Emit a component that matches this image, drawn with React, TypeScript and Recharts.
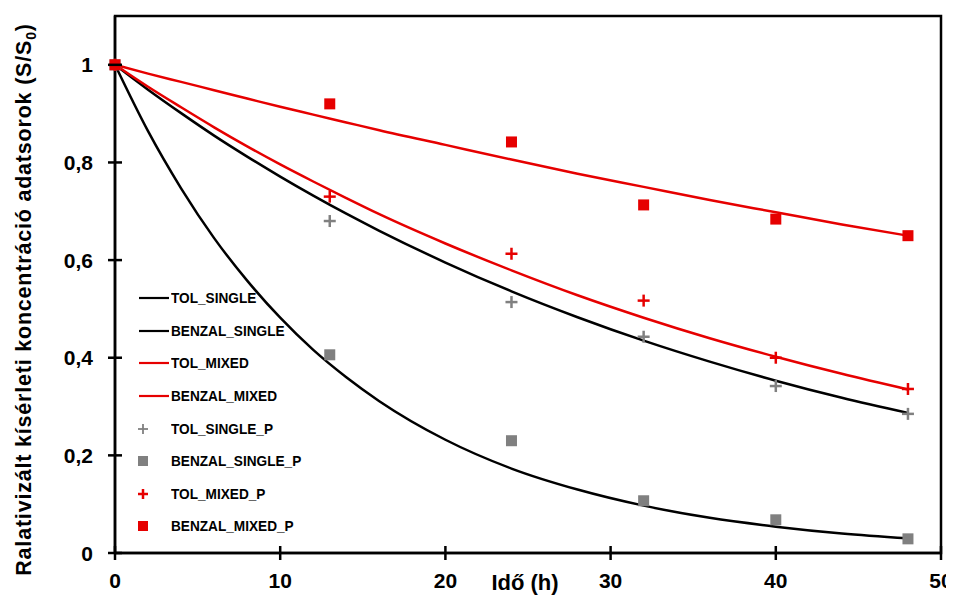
import { ComposedChart, Line, Scatter, XAxis, YAxis, ReferenceArea, Label } from 'recharts';

// fitted curves
const hours = [0, 2, 4, 6, 8, 10, 12, 14, 16, 20, 24, 28, 32, 36, 40, 44, 48];
const tolSingle = [1, 0.949, 0.901, 0.855, 0.812, 0.771, 0.732, 0.695, 0.66, 0.595, 0.536, 0.483, 0.435, 0.392, 0.353, 0.318, 0.287];
const benzalSingle = [1, 0.864, 0.747, 0.645, 0.558, 0.482, 0.416, 0.36, 0.311, 0.232, 0.173, 0.13, 0.097, 0.072, 0.054, 0.04, 0.03];
const tolMixed = [1, 0.955, 0.913, 0.872, 0.833, 0.796, 0.761, 0.727, 0.694, 0.634, 0.579, 0.528, 0.482, 0.44, 0.402, 0.367, 0.335];
const benzalMixed = [1, 0.982, 0.965, 0.948, 0.931, 0.914, 0.898, 0.882, 0.866, 0.836, 0.806, 0.777, 0.75, 0.723, 0.698, 0.673, 0.65];

// measured points
const sampleHours = [0, 13, 24, 32, 40, 48];
const tolSingleP = [1, 0.68, 0.514, 0.443, 0.342, 0.285];
const benzalSingleP = [1, 0.406, 0.23, 0.107, 0.068, 0.029];
const tolMixedP = [1, 0.73, 0.613, 0.517, 0.4, 0.336];
const benzalMixedP = [1, 0.92, 0.842, 0.713, 0.684, 0.65];

const xTicks = [0, 10, 20, 30, 40, 50];
const yTicks = [0, 0.2, 0.4, 0.6, 0.8, 1];

const seriesNames = ['TOL_SINGLE', 'BENZAL_SINGLE', 'TOL_MIXED', 'BENZAL_MIXED', 'TOL_SINGLE_P', 'BENZAL_SINGLE_P', 'TOL_MIXED_P', 'BENZAL_MIXED_P'];

const BLACK = '#000000';
const RED = '#e60000';
const GRAY = '#808080';
const FONT = "'Liberation Sans', Arial, sans-serif";

const TICK_SIZE = 7;
const Y_TICK_MARGIN = 8;
const X_TICK_MARGIN = 10;

const toPoints = (xs: number[], ys: number[]) => xs.map((t, i) => ({ t, v: ys[i] }));

const Cross = ({ cx, cy, color }: any) => (
  <g>
    <line x1={cx - 6} x2={cx + 6} y1={cy} y2={cy} stroke={color} strokeWidth={2.5} />
    <line x1={cx} x2={cx} y1={cy - 6} y2={cy + 6} stroke={color} strokeWidth={2.5} />
  </g>
);

const Square = ({ cx, cy, color }: any) => (
  <rect x={cx - 5.5} y={cy - 5.5} width={11} height={11} fill={color} />
);

const YTick = (props: any) => {
  const { x, y, payload } = props;
  const axisX = x + TICK_SIZE + Y_TICK_MARGIN;
  return (
    <g>
      <line x1={axisX - 7} x2={axisX + 7} y1={y} y2={y} stroke={BLACK} strokeWidth={2.5} />
      <text x={axisX - 22} y={y} dy="0.36em" textAnchor="end" fontFamily={FONT} fontWeight="bold" fontSize={21} fill={BLACK}>
        {String(payload.value).replace('.', ',')}
      </text>
    </g>
  );
};

const XTick = (props: any) => {
  const { x, y, payload } = props;
  const axisY = y - TICK_SIZE - X_TICK_MARGIN;
  return (
    <g>
      <line x1={x} x2={x} y1={axisY - 7} y2={axisY + 7} stroke={BLACK} strokeWidth={2.5} />
      <text x={x} y={axisY + 35} textAnchor="middle" fontFamily={FONT} fontWeight="bold" fontSize={21} fill={BLACK}>
        {payload.value}
      </text>
    </g>
  );
};

const YTitle = ({ viewBox }: any) => {
  const cx = viewBox.x + 15;
  const cy = viewBox.y + viewBox.height / 2 + 15;
  return (
    <text x={cx} y={cy} transform={`rotate(-90, ${cx}, ${cy})`} textAnchor="middle" dy="0.35em" fontFamily={FONT} fontWeight="bold" fontSize={21.5} letterSpacing={0.8} fill={BLACK}>
      Ralativizált kísérleti koncentráció adatsorok (S/S<tspan fontSize={14} dy={5}>0</tspan><tspan dy={-5}>)</tspan>
    </text>
  );
};

const XTitle = ({ viewBox }: any) => (
  <text x={viewBox.x + viewBox.width / 2 - 3} y={viewBox.y + 37} textAnchor="middle" fontFamily={FONT} fontWeight="bold" fontSize={22} fill={BLACK}>
    Idő (h)
  </text>
);

const legendIcons = [
  { kind: 'line', color: BLACK },
  { kind: 'line', color: BLACK },
  { kind: 'line', color: RED },
  { kind: 'line', color: RED },
  { kind: 'cross', color: GRAY },
  { kind: 'square', color: GRAY },
  { kind: 'cross', color: RED },
  { kind: 'square', color: RED },
];

const LegendBox = () => (
  <div style={{ position: 'absolute', left: 123, top: 274, fontFamily: FONT, fontWeight: 'bold', fontSize: 14.5, color: BLACK }}>
    {seriesNames.map((name, i) => {
      const icon = legendIcons[i];
      return (
        <div key={name} style={{ display: 'flex', alignItems: 'center', height: 32.6 }}>
          <svg width={40} height={16} style={{ display: 'block' }}>
            {icon.kind === 'line' && <line x1={8} x2={38} y1={8} y2={8} stroke={icon.color} strokeWidth={2.2} />}
            {icon.kind === 'cross' && (
              <g>
                <line x1={7} x2={17} y1={8} y2={8} stroke={icon.color} strokeWidth={icon.color === GRAY ? 1.8 : 2.5} />
                <line x1={12} x2={12} y1={3} y2={13} stroke={icon.color} strokeWidth={icon.color === GRAY ? 1.8 : 2.5} />
              </g>
            )}
            {icon.kind === 'square' && <rect x={7} y={3} width={10} height={10} fill={icon.color} />}
          </svg>
          <span style={{ display: 'inline-block', transform: 'scaleX(0.94)', transformOrigin: 'left center', whiteSpace: 'nowrap' }}>{name}</span>
        </div>
      );
    })}
  </div>
);

export default function App() {
  const fits = [
    { name: seriesNames[0], data: toPoints(hours, tolSingle), color: BLACK },
    { name: seriesNames[1], data: toPoints(hours, benzalSingle), color: BLACK },
    { name: seriesNames[2], data: toPoints(hours, tolMixed), color: RED },
    { name: seriesNames[3], data: toPoints(hours, benzalMixed), color: RED },
  ];
  const measured = [
    { name: seriesNames[4], data: toPoints(sampleHours, tolSingleP), color: GRAY, Shape: Cross },
    { name: seriesNames[5], data: toPoints(sampleHours, benzalSingleP), color: GRAY, Shape: Square },
    { name: seriesNames[6], data: toPoints(sampleHours, tolMixedP), color: RED, Shape: Cross },
    { name: seriesNames[7], data: toPoints(sampleHours, benzalMixedP), color: RED, Shape: Square },
  ];

  return (
    <div style={{ position: 'relative', width: 946, height: 590, background: '#fff' }}>
      <ComposedChart width={946} height={590} margin={{ top: 8, right: 13, bottom: 0, left: 0 }}>
        <XAxis
          type="number"
          dataKey="t"
          domain={[0, 50]}
          ticks={xTicks}
          height={45}
          tickSize={TICK_SIZE}
          tickMargin={X_TICK_MARGIN}
          tickLine={false}
          tick={<XTick />}
          axisLine={{ stroke: BLACK, strokeWidth: 2.5 }}
        >
          <Label content={<XTitle />} />
        </XAxis>
        <YAxis
          type="number"
          domain={[0, 1.1]}
          ticks={yTicks}
          width={107}
          tickSize={TICK_SIZE}
          tickMargin={Y_TICK_MARGIN}
          tickLine={false}
          tick={<YTick />}
          axisLine={{ stroke: BLACK, strokeWidth: 2.5 }}
        >
          <Label content={<YTitle />} />
        </YAxis>
        <ReferenceArea x1={0} x2={50} y1={0} y2={1.1} fill="none" stroke={BLACK} strokeWidth={2.5} />
        {fits.map((s) => (
          <Line
            key={s.name}
            data={s.data}
            dataKey="v"
            name={s.name}
            type="monotone"
            stroke={s.color}
            strokeWidth={2.5}
            dot={false}
            activeDot={false}
            isAnimationActive={false}
          />
        ))}
        {measured.map((s) => (
          <Scatter
            key={s.name}
            data={s.data}
            dataKey="v"
            name={s.name}
            shape={(p: any) => <s.Shape cx={p.cx} cy={p.cy} color={s.color} />}
            isAnimationActive={false}
          />
        ))}
      </ComposedChart>
      <LegendBox />
    </div>
  );
}
